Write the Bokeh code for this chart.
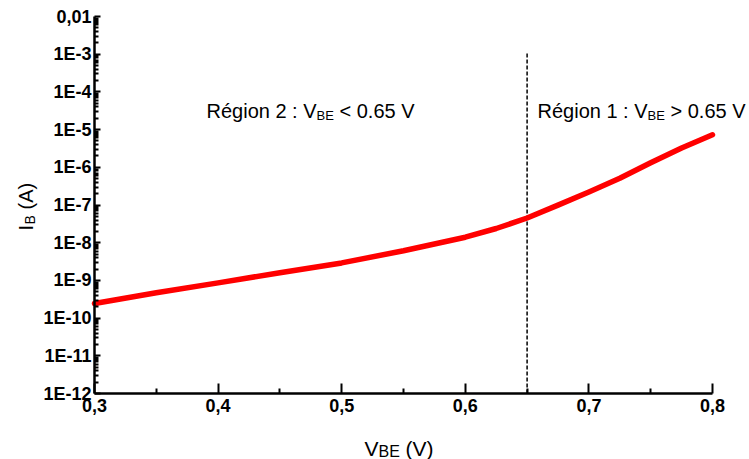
import math
from bokeh.plotting import figure
from bokeh.models import FixedTicker, CustomJSTickFormatter, Label, Range1d
from bokeh.embed import file_html
from bokeh.resources import INLINE

# ---- data ----
vbe = [0.300, 0.350, 0.400, 0.450, 0.500, 0.550, 0.600, 0.625, 0.650,
       0.675, 0.700, 0.725, 0.750, 0.775, 0.800]
ib = [2.44e-10, 4.7e-10, 8.6e-10, 1.6e-9, 2.91e-9, 6.1e-9, 1.40e-8, 2.38e-8, 4.52e-8,
      9.9e-8, 2.2e-7, 5.1e-7, 1.32e-6, 3.25e-6, 7.3e-6]

threshold_v = [0.65, 0.65]
threshold_i = [1e-12, 1.1e-3]

x_ticks = [0.3, 0.4, 0.5, 0.6, 0.7, 0.8]
x_tick_labels = ["0,3", "0,4", "0,5", "0,6", "0,7", "0,8"]
x_minor = [0.35, 0.45, 0.55, 0.65, 0.75]

y_ticks = [1e-12, 1e-11, 1e-10, 1e-9, 1e-8, 1e-7, 1e-6, 1e-5, 1e-4, 1e-3, 1e-2]
y_tick_labels = ["1E-12", "1E-11", "1E-10", "1E-9", "1E-8", "1E-7", "1E-6",
                 "1E-5", "1E-4", "1E-3", "0,01"]
y_minor = [k * 10.0 ** e for e in range(-12, -2) for k in range(2, 10)]

W, H = 749, 459
FONT = "Liberation Sans"

# layout: where the axes sit inside the canvas (pixels)
AX_LEFT, AX_RIGHT, AX_TOP, AX_BOTTOM = 94, 712, 16, 393
px_per_v = (AX_RIGHT - AX_LEFT) / (x_ticks[-1] - x_ticks[0])
px_per_dec = (AX_BOTTOM - AX_TOP) / (math.log10(y_ticks[-1]) - math.log10(y_ticks[0]))
x_start = x_ticks[0] - AX_LEFT / px_per_v
x_end = x_ticks[-1] + (W - AX_RIGHT) / px_per_v
y_start = 10 ** (math.log10(y_ticks[0]) - (H - AX_BOTTOM) / px_per_dec)
y_end = 10 ** (math.log10(y_ticks[-1]) + AX_TOP / px_per_dec)

p = figure(width=W, height=H, output_backend="svg", toolbar_location=None,
           y_axis_type="log", x_range=Range1d(x_start, x_end),
           y_range=Range1d(y_start, y_end),
           min_border_left=0, min_border_right=0, min_border_top=0, min_border_bottom=0)
p.outline_line_color = None
p.xgrid.visible = False
p.ygrid.visible = False
p.background_fill_color = "white"
p.border_fill_color = "white"

fmt_code = """
let best = 0, d = Infinity;
for (let i = 0; i < tv.length; i++) {
  const dd = Math.abs(Math.log(tv[i]) - Math.log(tick));
  if (dd < d) { d = dd; best = i; }
}
return lab[best];
"""

p.xaxis.ticker = FixedTicker(ticks=x_ticks, minor_ticks=x_minor)
p.xaxis.formatter = CustomJSTickFormatter(args=dict(tv=x_ticks, lab=x_tick_labels), code=fmt_code)
p.xaxis.bounds = (x_ticks[0], x_ticks[-1])
p.xaxis.fixed_location = y_ticks[0]
p.yaxis.ticker = FixedTicker(ticks=y_ticks, minor_ticks=y_minor)
p.yaxis.formatter = CustomJSTickFormatter(args=dict(tv=y_ticks, lab=y_tick_labels), code=fmt_code)
p.yaxis.bounds = (y_ticks[0], y_ticks[-1])
p.yaxis.fixed_location = x_ticks[0]

for ax in (p.xaxis, p.yaxis):
    ax.axis_line_color = "black"
    ax.axis_line_width = 2.5
    ax.major_tick_line_color = "black"
    ax.minor_tick_line_color = "black"
    ax.major_tick_line_width = 2
    ax.minor_tick_line_width = 2
    ax.major_tick_out = 0
    ax.minor_tick_out = 0
    ax.major_label_text_font = FONT
    ax.major_label_text_font_style = "bold"
    ax.major_label_text_font_size = "18px"
    ax.major_label_text_color = "black"

p.xaxis.major_tick_in = 10
p.xaxis.minor_tick_in = 5
p.xaxis.major_label_standoff = 5
p.yaxis.major_tick_in = 6
p.yaxis.minor_tick_in = 4
p.yaxis.major_label_standoff = 3

# threshold line
p.line(threshold_v, threshold_i, line_color="black", line_width=1.5, line_dash="4 2")
# curve
p.line(vbe, ib, line_color="#ff0000", line_width=5.5, line_join="round", line_cap="round")


def txt(cx, cy, text, size, angle=0.0):
    """Label placed by canvas pixel position (baseline start)."""
    p.add_layout(Label(x=cx, y=H - cy, x_units="screen", y_units="screen", text=text,
                       angle=angle, text_font=FONT, text_font_size=f"{size}px",
                       text_baseline="alphabetic", text_color="black"))


# region labels
def region_label(cx, prefix, rel):
    base = 110
    txt(cx, base, prefix, 20)
    w1 = 20 * 5.503
    txt(cx + w1, base + 5, "BE", 13)
    w2 = w1 + 13 * 1.334 + 20 * 0.278
    txt(cx + w2, base, rel + " 0.65 V", 20)

region_label(206, "Région 2 : V", "<")
region_label(537, "Région 1 : V", ">")

# x axis label: V_BE (V)
x0, xb = 364, 448
txt(x0, xb, "V", 21)
txt(x0 + 14, xb + 3, "BE", 16)
txt(x0 + 14 + 21.3 + 5.8, xb, "(V)", 21)

# y axis label: I_B (A), rotated
ang = math.pi / 2
bx, y0 = 25, 230
txt(bx, y0, "I", 20, ang)
txt(bx + 4, y0 - 6, "B", 14, ang)
txt(bx, y0 - 6 - 9.5 - 5.6, "(A)", 20, ang)

open("out.html", "w").write(file_html(p, INLINE))
